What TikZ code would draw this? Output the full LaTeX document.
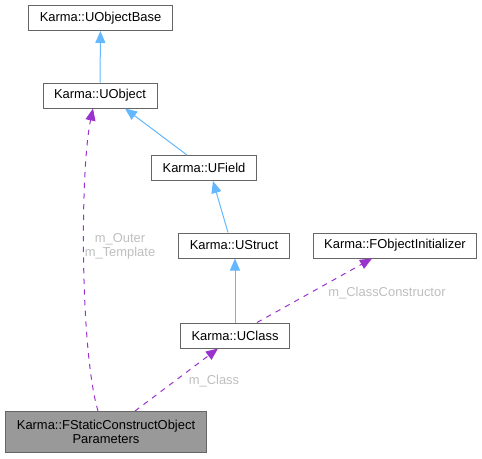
\documentclass[tikz,border=0pt]{standalone}
\usepackage{fontspec}
\setmainfont{Liberation Sans}
\usetikzlibrary{arrows.meta}
\definecolor{Frame}{HTML}{666666}
\definecolor{BoxGrey}{HTML}{999999}
\definecolor{InhBlue}{HTML}{63B8FF}
\definecolor{UseOrchid}{HTML}{9A32CD}
\definecolor{LabelGrey}{HTML}{BEBEBE}

\begin{document}
\begin{tikzpicture}[x=0.75pt,y=-0.75pt,
  every node/.style={font=\fontsize{9.7}{10.5}\selectfont},
  cls/.style={draw=Frame,line width=0.75pt,fill=white,minimum height=18.75pt,inner xsep=8.25pt,inner ysep=0pt},
  inh/.style={InhBlue,line width=0.75pt,-{Triangle[length=9pt,width=7.5pt]}},
  use/.style={UseOrchid,line width=0.75pt,dash pattern=on 4pt off 4pt,-{Triangle[length=9pt,width=7.5pt]}},
  lbl/.style={text=LabelGrey,align=center}]
\useasboundingbox (0,0) rectangle (482,458);
\node[cls] (base) at (100.5,18) {Karma::UObjectBase};
\node[cls] (uobj) at (100,95.5) {Karma::UObject};
\node[cls] (ufield) at (204,168) {Karma::UField};
\node[cls] (ustruct) at (234,245.5) {Karma::UStruct};
\node[cls] (init) at (395,245.5) {Karma::FObjectInitializer};
\node[cls] (uclass) at (235,335.5) {Karma::UClass};
\node[cls,fill=BoxGrey,align=center,minimum height=30.75pt] (params) at (106,432) {Karma::FStaticConstructObject\\Parameters};
% inheritance
\draw[inh] (uobj) -- (base);
\draw[inh] ([xshift=-12.75pt]ufield.north) -- ([xshift=18.75pt]uobj.south);
\draw[inh] ([xshift=-4.5pt]ustruct.north) -- ([xshift=6.75pt]ufield.south);
\draw[inh] (uclass.north) -- (uclass.north |- ustruct.south);
% members
\draw[use] ([xshift=16.5pt]uclass.north) -- ([xshift=-17.25pt]init.south);
\draw[use] ([xshift=21.75pt]params.north) -- ([xshift=-12.75pt]uclass.south);
\draw[use] ([xshift=-6pt]params.north) .. controls (80,350) and (80,170) .. ([xshift=-5.25pt]uobj.south);
\node[lbl] (outerlbl) at (120,246) {m\_Outer\\m\_Template};
\node[lbl] (ctorlbl) at (387,293) {m\_ClassConstructor};
\node[lbl] (classlbl) at (214,381) {m\_Class};
\end{tikzpicture}
\end{document}
